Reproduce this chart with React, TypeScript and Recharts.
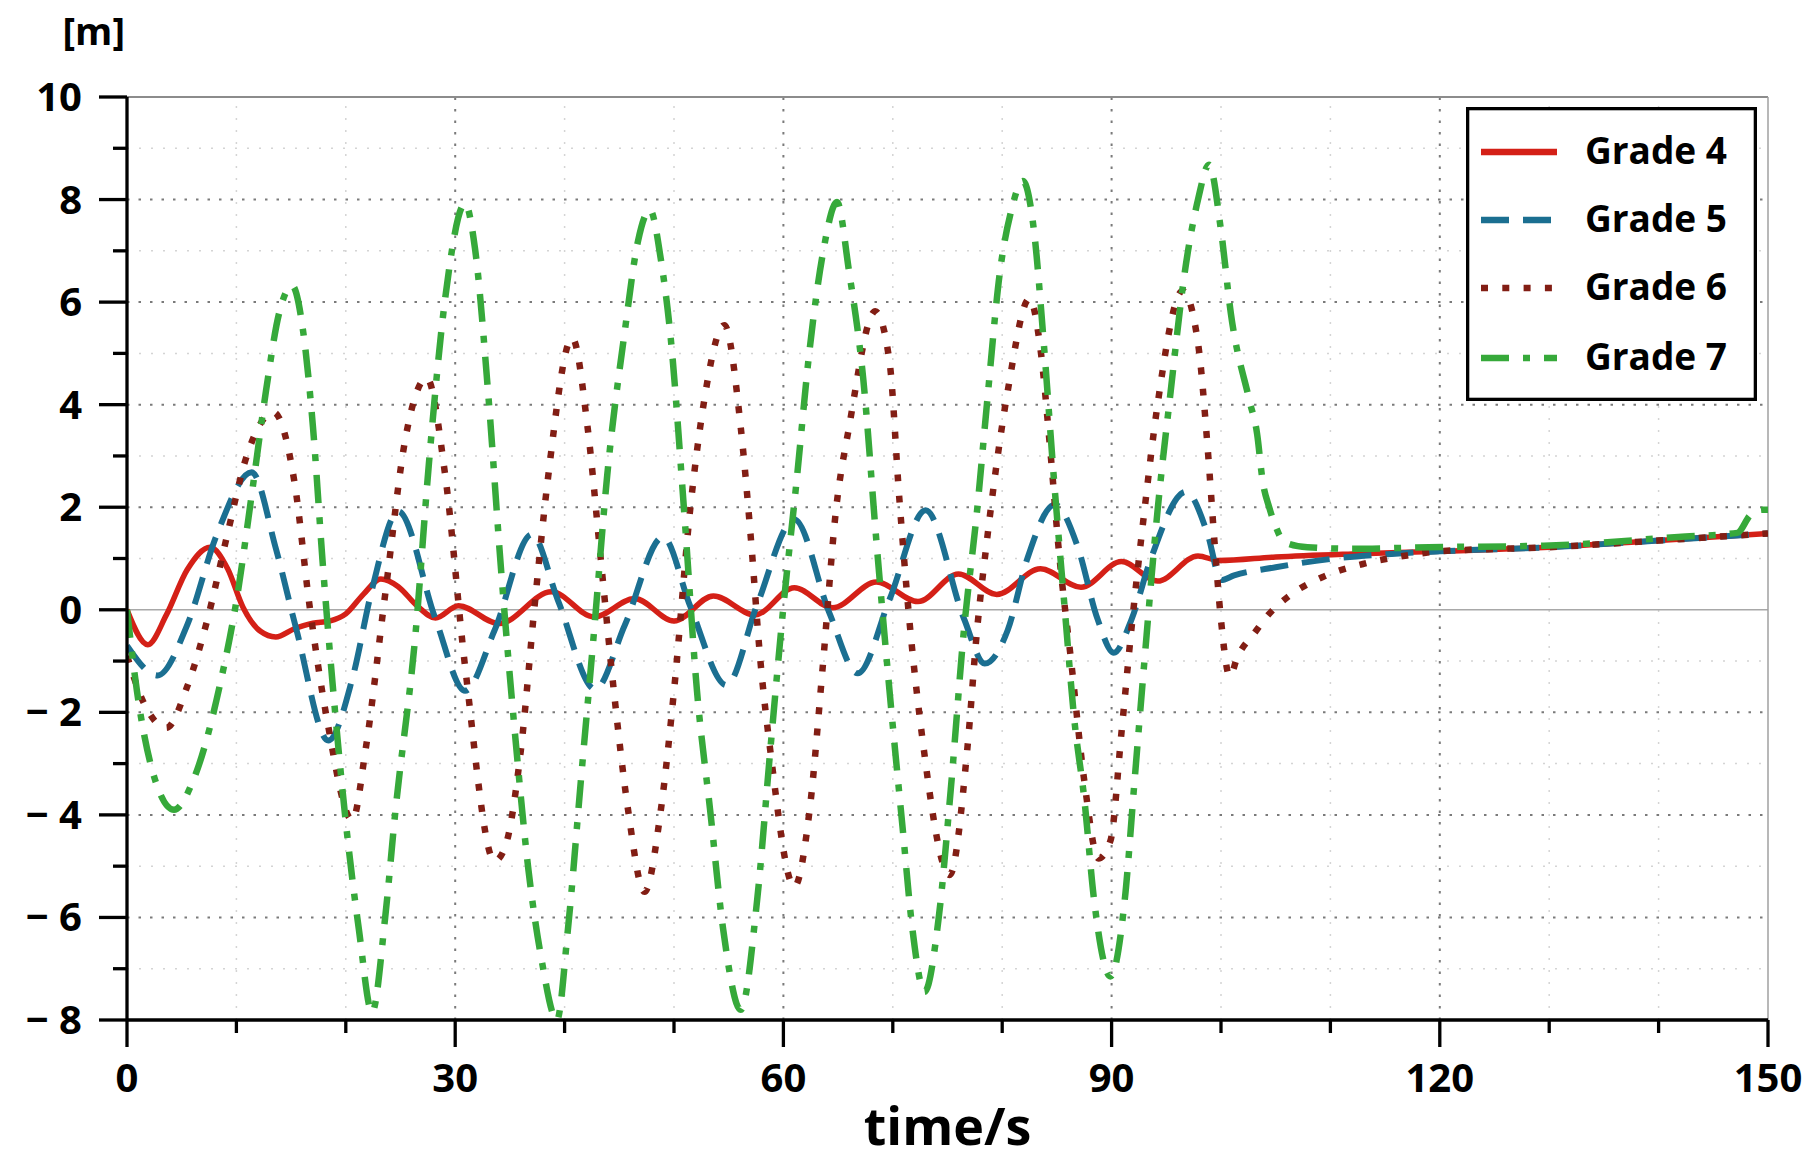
import React from 'react';
import { LineChart, Line, XAxis, YAxis, ReferenceLine, Legend, Label } from 'recharts';

const W = 1817;
const H = 1161;
const FONT = '"Open Sans", "Noto Sans", "DejaVu Sans", sans-serif';

// ---- axis ticks / grid values ----
const xTicks = [0, 10, 20, 30, 40, 50, 60, 70, 80, 90, 100, 110, 120, 130, 140, 150];
const yTicks = [-8, -7, -6, -5, -4, -3, -2, -1, 0, 1, 2, 3, 4, 5, 6, 7, 8, 9, 10];
const majorGridY = [-6, -4, -2, 2, 4, 6, 8];
const minorGridY = [-7, -5, -3, -1, 1, 3, 5, 7, 9];
const majorGridX = [30, 60, 90, 120];
const minorGridX = [10, 20, 40, 50, 70, 80, 100, 110, 130, 140];

// ---- series data (time in s, value in m) ----
const g4T = [0, 1.9, 3.6, 5.5, 7.6, 9.2, 10.6, 12.2, 13.6, 15.3, 17, 18.5, 20, 21.6, 23.2, 24.8, 26.5, 28.2, 30.3, 34, 38.8, 42.7, 46.4, 50, 53.6, 57.4, 61, 64.5, 68.5, 72.3, 76, 79.5, 83.5, 87.2, 90.9, 94.2, 97.9, 99.8, 105, 112, 120, 130, 140, 150];
const g4V = [0, -0.68, -0.1, 0.78, 1.22, 0.8, 0.05, -0.42, -0.53, -0.37, -0.26, -0.22, -0.08, 0.3, 0.6, 0.45, 0.08, -0.16, 0.08, -0.27, 0.35, -0.14, 0.22, -0.22, 0.27, -0.1, 0.43, 0.04, 0.54, 0.16, 0.7, 0.3, 0.8, 0.44, 0.94, 0.56, 1.05, 0.96, 1.03, 1.09, 1.14, 1.22, 1.35, 1.49];

const g5T = [0, 2.8, 5.5, 8.2, 11.4, 13.6, 15.5, 18.4, 20.6, 22.4, 24.8, 28.2, 30.9, 33.6, 37, 39.4, 42.8, 45.5, 49, 51.5, 54.8, 57.6, 61, 64.2, 66.8, 69.7, 73, 76.5, 78.4, 80.5, 82.3, 84.8, 86.9, 88.7, 90.2, 91.8, 93.6, 96.8, 98.8, 100, 101.2, 105, 110, 115.6, 120, 130, 140, 150];
const g5V = [-0.7, -1.28, -0.3, 1.46, 2.68, 1.2, -0.4, -2.55, -1.34, 0.4, 1.92, -0.18, -1.58, -0.4, 1.47, 0.18, -1.55, -0.3, 1.42, 0.06, -1.47, 0.1, 1.76, -0.06, -1.24, 0.2, 1.94, -0.17, -1.05, -0.4, 1.0, 2.05, 1.23, -0.17, -0.84, -0.2, 1.0, 2.3, 1.46, 0.58, 0.67, 0.83, 0.99, 1.09, 1.14, 1.22, 1.35, 1.49];

const g6T = [0, 1.5, 3.6, 5.5, 7.3, 9.1, 10.9, 13.4, 15.3, 16.7, 18.3, 20.6, 21.8, 23.6, 25.5, 27.4, 29.1, 30.9, 33.6, 34.6, 36, 37.3, 38.5, 40.7, 42.1, 43.3, 44.5, 45.8, 47.3, 48.8, 50, 51.5, 52.7, 54.6, 56.1, 57, 57.9, 58.8, 61, 62.4, 63.6, 64.8, 66, 68.4, 69.7, 70.6, 71.5, 72.7, 75.2, 76.8, 77.7, 78.6, 80.5, 82.5, 83.5, 84.4, 85.2, 86.3, 87.5, 88.8, 89.9, 90.9, 91.8, 93, 94.2, 96.5, 97.9, 98.8, 99.4, 100, 100.8, 101.5, 103, 104.4, 106.1, 109.3, 113.1, 117, 120, 130, 140, 150];
const g6V = [-0.9, -1.8, -2.3, -1.5, -0.23, 1.4, 2.97, 3.85, 2.5, 0.06, -2.16, -4.1, -2.74, 0.3, 3.4, 4.52, 2.6, -1.1, -4.9, -4.6, -2.74, 0.17, 2.6, 5.3, 3.56, 1.0, -1.58, -3.9, -5.5, -3.9, -1.58, 2.0, 4.0, 5.55, 3.56, 1.46, -1.0, -2.74, -5.4, -3.9, -1.1, 1.93, 3.56, 5.82, 4.84, 2.16, -0.17, -2.5, -5.17, -2.74, -0.4, 1.34, 4.26, 6.07, 5.08, 3.1, 1.1, -1.0, -3.33, -4.85, -4.5, -2.4, -0.4, 1.93, 4.0, 6.22, 5.2, 3.1, 1.34, -0.2, -1.3, -0.92, -0.47, -0.08, 0.25, 0.64, 0.9, 1.06, 1.14, 1.22, 1.35, 1.49];

const g7T = [0, 0.9, 2.4, 4.3, 6.1, 8.5, 10, 11.5, 12.7, 13.9, 15.1, 16.1, 17, 17.9, 18.8, 20, 21.2, 22.4, 23.6, 24.5, 26.4, 27.6, 29.1, 30.9, 31.8, 33, 34.2, 35.5, 36.7, 37.9, 39.3, 40.3, 41.5, 42.7, 43.9, 45.5, 46.7, 47.8, 48.8, 49.7, 50.9, 52.1, 53.3, 54.5, 56.1, 57.6, 58.8, 60, 61.2, 62.4, 63.6, 64.9, 66, 67.3, 68.5, 69.7, 70.9, 71.8, 72.9, 74.2, 75.3, 76.5, 77.7, 78.6, 79.8, 80.8, 81.9, 82.9, 83.8, 84.7, 85.7, 86.6, 87.5, 88.4, 89.9, 91.2, 92.1, 93, 94.2, 95.4, 96.7, 97.9, 98.9, 100, 100.9, 102.6, 103.3, 103.8, 104.4, 104.9, 105.8, 107.9, 112, 119, 129.5, 141.8, 147.2, 148.4, 149.5, 150];
const g7V = [0, -1.57, -3.2, -3.9, -3.3, -1.46, 0.17, 2.4, 4.26, 5.78, 6.32, 5.43, 3.56, 0.88, -1.46, -4.14, -6.24, -7.85, -6.0, -4.0, -0.4, 2.86, 6.1, 7.92, 7.06, 4.26, 0.76, -2.5, -5.08, -6.83, -8.0, -6.24, -3.3, -0.4, 2.63, 5.43, 7.18, 7.8, 6.83, 5.3, 2.0, -1.58, -3.9, -6.24, -7.8, -5.66, -2.74, 0.06, 2.5, 5.08, 6.94, 7.95, 6.6, 4.5, 1.34, -1.58, -4.26, -6.24, -7.45, -6.0, -3.5, -0.4, 1.93, 4.0, 6.6, 7.76, 8.36, 7.4, 5.2, 2.63, 0.06, -2.16, -3.68, -5.66, -7.15, -5.66, -3.33, -1.0, 1.93, 4.26, 6.6, 8.0, 8.68, 7.4, 5.78, 4.08, 3.43, 2.52, 2.0, 1.68, 1.32, 1.22, 1.19, 1.22, 1.25, 1.42, 1.5, 1.85, 1.95, 1.95];

const toData = (ts: number[], vs: number[]) => ts.map((t, i) => ({ t, v: vs[i] }));

const SERIES = [
  { name: 'Grade 4', data: toData(g4T, g4V), color: '#d42017', dash: undefined as string | undefined, width: 5.5 },
  { name: 'Grade 5', data: toData(g5T, g5V), color: '#1b6f91', dash: '28 14', width: 6 },
  { name: 'Grade 6', data: toData(g6T, g6V), color: '#821e14', dash: '7 14.3', width: 6.5 },
  { name: 'Grade 7', data: toData(g7T, g7V), color: '#36a93a', dash: '28 14 7 14', width: 6.5 },
];

const fmtY = (v: number) => (v < 0 ? '\u2212 ' + Math.abs(v) : String(v));

const XTick = (props: any) => {
  const { x, y, payload } = props;
  const v = payload.value as number;
  const major = v % 30 === 0;
  return (
    <g>
      <line x1={x} x2={x} y1={y} y2={y + (major ? 27 : 13)} stroke="#000" strokeWidth={3.3} />
      {major && (
        <text x={x} y={y + 72} textAnchor="middle" fontFamily={FONT} fontWeight={700} fontSize={40} fill="#000">
          {v}
        </text>
      )}
    </g>
  );
};

const YTick = (props: any) => {
  const { x, y, payload } = props;
  const v = payload.value as number;
  const major = v % 2 === 0;
  return (
    <g>
      <line x1={x - (major ? 28 : 14)} x2={x} y1={y} y2={y} stroke="#000" strokeWidth={3.3} />
      {major && (
        <text x={x - 45} y={y + 14} textAnchor="end" fontFamily={FONT} fontWeight={700} fontSize={40} fill="#000">
          {fmtY(v)}
        </text>
      )}
    </g>
  );
};

const TimeLabel = (props: any) => {
  const vb = props.viewBox || { x: 127, y: 1020, width: 1641, height: 141 };
  return (
    <text x={vb.x + vb.width / 2} y={vb.y + 125} textAnchor="middle" fontFamily={FONT} fontWeight={700} fontSize={52} fill="#000">
      time/s
    </text>
  );
};

const UnitLabel = (props: any) => {
  const vb = props.viewBox || { x: 0, y: 97, width: 127, height: 923 };
  return (
    <text x={vb.x + vb.width - 2} y={vb.y - 52} textAnchor="end" fontFamily={FONT} fontWeight={700} fontSize={38} fill="#000">
      [m]
    </text>
  );
};

const LEG_Y = [45, 113, 181, 251];

const LegendBox = () => (
  <svg width={291} height={294} style={{ display: 'block' }}>
    <rect x={1.65} y={1.65} width={287.7} height={290.7} fill="#fff" stroke="#000" strokeWidth={3.3} />
    {SERIES.map((s, i) => (
      <g key={s.name}>
        <line x1={15} x2={91} y1={LEG_Y[i]} y2={LEG_Y[i]} stroke={s.color} strokeWidth={6.5} strokeDasharray={s.dash} />
        <text x={119} y={LEG_Y[i] + 12} fontFamily={FONT} fontWeight={700} fontSize={37} fill="#000">
          {s.name}
        </text>
      </g>
    ))}
  </svg>
);

export default function App() {
  return (
    <div style={{ position: 'absolute', left: 0, top: 0, width: W, height: H, background: '#fff' }}>
      <LineChart width={W} height={H} margin={{ top: 97, right: 49, bottom: 0, left: 0 }}>
        <XAxis
          dataKey="t"
          type="number"
          domain={[0, 150]}
          ticks={xTicks}
          interval={0}
          allowDataOverflow
          tick={<XTick />}
          tickSize={0}
          tickMargin={0}
          tickLine={false}
          axisLine={{ stroke: '#000', strokeWidth: 3.3 }}
          height={141}
        >
          <Label content={TimeLabel} />
        </XAxis>
        <YAxis
          type="number"
          domain={[-8, 10]}
          ticks={yTicks}
          interval={0}
          allowDataOverflow
          tick={<YTick />}
          tickSize={0}
          tickMargin={0}
          tickLine={false}
          axisLine={{ stroke: '#000', strokeWidth: 3.3 }}
          width={127}
        >
          <Label content={UnitLabel} />
        </YAxis>

        {minorGridY.map((v) => (
          <ReferenceLine key={'my' + v} y={v} stroke="#d4d4d4" strokeWidth={1.5} strokeDasharray="2 10" />
        ))}
        {minorGridX.map((v) => (
          <ReferenceLine key={'mx' + v} x={v} stroke="#d4d4d4" strokeWidth={1.5} strokeDasharray="2 10" />
        ))}
        {majorGridY.map((v) => (
          <ReferenceLine key={'gy' + v} y={v} stroke="#7a7a7a" strokeWidth={2} strokeDasharray="2.5 9" />
        ))}
        {majorGridX.map((v) => (
          <ReferenceLine key={'gx' + v} x={v} stroke="#7a7a7a" strokeWidth={2} strokeDasharray="2.5 9" />
        ))}
        <ReferenceLine y={0} stroke="#a8a8a8" strokeWidth={1.5} />
        <ReferenceLine y={10} stroke="#8c8c8c" strokeWidth={2} />
        <ReferenceLine x={150} stroke="#a0a0a0" strokeWidth={1.5} />

        {SERIES.map((s) => (
          <Line
            key={s.name}
            name={s.name}
            data={s.data}
            dataKey="v"
            type="monotone"
            stroke={s.color}
            strokeWidth={s.width}
            strokeDasharray={s.dash}
            dot={false}
            activeDot={false}
            isAnimationActive={false}
          />
        ))}

        <Legend
          layout="vertical"
          align="center"
          verticalAlign="middle"
          content={<LegendBox />}
          wrapperStyle={{ left: 1466, top: 107, width: 291, height: 294, right: 'auto', bottom: 'auto' }}
        />
      </LineChart>
    </div>
  );
}
